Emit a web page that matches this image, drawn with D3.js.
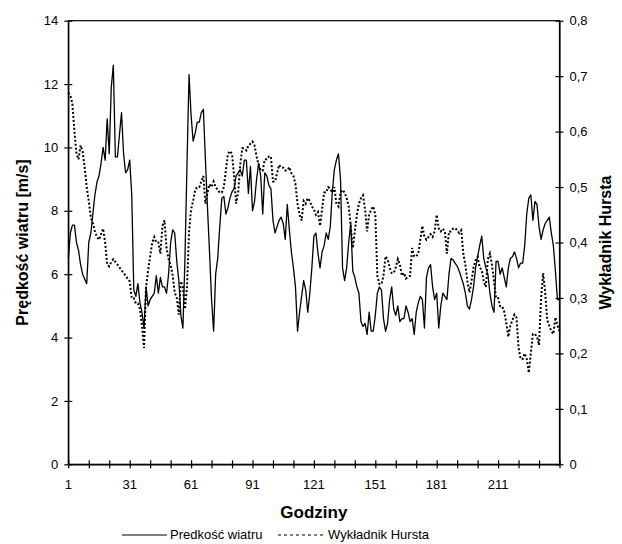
<!DOCTYPE html>
<meta charset="utf-8">
<script src="https://d3js.org/d3.v7.min.js"></script>
<style>
  body { margin: 0; background: #fff; }
  text { font-family: Arial, "Liberation Sans", sans-serif; fill: #000; }
</style>
<svg id="chart" width="622" height="544"></svg>
<script>

// hours 1..241
var hours = d3.range(1, 242);

// wind speed [m/s], one value per hour
var windSpeed = [
  6.5, 7.3, 7.55, 7.55, 7.0, 6.75, 6.3, 6.0, 5.85, 5.7,
  7.0, 7.3, 7.9, 8.5, 8.9, 9.1, 9.5, 10.0, 9.6, 10.9,
  9.8, 11.9, 12.6, 9.7, 9.7, 10.4, 11.1, 9.8, 9.2, 9.3,
  9.6, 8.5, 5.5, 5.3, 5.7, 5.1, 4.8, 4.3, 5.6, 5.0,
  5.2, 5.3, 5.4, 5.95, 5.4, 5.9, 5.6, 5.6, 5.4, 6.0,
  7.0, 7.4, 7.3, 6.4, 5.8, 4.7, 4.3, 6.5, 9.5, 12.3,
  11.0, 10.2, 10.45, 10.8, 10.8, 11.1, 11.2, 9.6, 8.1, 6.7,
  5.2, 4.2, 6.0, 6.5, 7.5, 8.4, 8.45, 7.9, 8.1, 8.4,
  8.6, 8.7, 9.1, 9.2, 9.3, 9.1, 9.6, 9.6, 8.55, 9.4,
  8.0, 8.3, 9.0, 9.5, 9.1, 7.9, 9.2, 9.1, 8.8, 8.7,
  7.7, 7.3, 7.5, 7.7, 7.8, 7.6, 7.1, 8.2, 7.4, 6.7,
  6.2, 5.6, 4.2, 4.8, 5.3, 5.8, 5.5, 4.8, 5.4, 6.2,
  7.2, 7.3, 6.65, 6.2, 6.7, 6.9, 7.3, 7.1, 7.5, 8.6,
  9.3, 9.6, 9.8, 9.0, 6.2, 5.8, 6.2, 7.0, 7.6, 6.1,
  5.9, 5.6, 5.4, 4.5, 4.35, 4.45, 4.1, 4.8, 4.2, 4.2,
  4.7, 5.4, 5.6, 5.5, 4.6, 4.2, 4.45, 5.2, 5.6, 4.9,
  4.7, 5.0, 4.5, 4.6, 4.6, 5.0, 4.8, 4.5, 4.6, 4.1,
  4.8, 5.1, 5.3, 5.2, 4.3, 5.9, 6.2, 6.3, 5.6, 5.2,
  5.4, 4.3, 5.0, 5.4, 5.3, 5.2, 6.0, 6.5, 6.45, 6.35,
  6.25, 6.1, 5.9, 5.7, 5.4, 5.0, 4.9, 5.2, 5.6, 6.2,
  6.55, 6.9, 7.2, 6.5, 6.2, 6.0, 5.4, 5.0, 4.8, 6.4,
  6.4, 6.0, 6.2, 5.9, 5.6, 6.2, 6.5, 6.55, 6.7, 6.5,
  6.2, 6.35, 6.35, 6.9, 7.9, 8.4, 8.5, 7.7, 8.3, 8.2,
  7.5, 7.1, 7.4, 7.6, 7.7, 7.8, 7.3, 6.9, 6.1, 5.2,
  5.2
];

// Hurst exponent, one value per hour
var hurst = [
  0.67, 0.665, 0.65, 0.60, 0.56, 0.55, 0.575, 0.565, 0.535, 0.50,
  0.475, 0.445, 0.435, 0.42, 0.41, 0.405, 0.415, 0.425, 0.40, 0.36,
  0.357, 0.365, 0.37, 0.365, 0.36, 0.355, 0.35, 0.345, 0.34, 0.335,
  0.33, 0.30, 0.30, 0.29, 0.29, 0.28, 0.25, 0.21, 0.32, 0.35,
  0.375, 0.40, 0.41, 0.40, 0.40, 0.38, 0.43, 0.44, 0.39, 0.37,
  0.36, 0.34, 0.31, 0.30, 0.27, 0.33, 0.32, 0.28, 0.32, 0.42,
  0.46, 0.475, 0.495, 0.50, 0.50, 0.51, 0.52, 0.47, 0.49, 0.505,
  0.50, 0.51, 0.50, 0.495, 0.49, 0.49, 0.50, 0.53, 0.56, 0.565,
  0.56, 0.52, 0.47, 0.49, 0.54, 0.57, 0.57, 0.566, 0.575, 0.578,
  0.582, 0.575, 0.555, 0.54, 0.53, 0.53, 0.55, 0.55, 0.555, 0.555,
  0.51, 0.51, 0.525, 0.54, 0.535, 0.535, 0.53, 0.53, 0.536, 0.525,
  0.52, 0.505, 0.47, 0.45, 0.44, 0.475, 0.47, 0.48, 0.475, 0.465,
  0.46, 0.45, 0.455, 0.43, 0.46, 0.49, 0.49, 0.50, 0.497, 0.49,
  0.50, 0.47, 0.465, 0.49, 0.495, 0.49, 0.48, 0.465, 0.43, 0.39,
  0.42, 0.45, 0.47, 0.48, 0.485, 0.46, 0.42, 0.45, 0.46, 0.465,
  0.45, 0.34, 0.325, 0.325, 0.34, 0.375, 0.37, 0.355, 0.345, 0.345,
  0.355, 0.37, 0.36, 0.34, 0.345, 0.335, 0.338, 0.34, 0.39, 0.375,
  0.375, 0.38, 0.405, 0.43, 0.41, 0.405, 0.41, 0.415, 0.41, 0.42,
  0.45, 0.425, 0.42, 0.425, 0.42, 0.38, 0.42, 0.42, 0.425, 0.426,
  0.422, 0.417, 0.422, 0.38, 0.36, 0.33, 0.31, 0.33, 0.355, 0.368,
  0.374, 0.355, 0.35, 0.33, 0.32, 0.37, 0.38, 0.36, 0.33, 0.30,
  0.30, 0.285, 0.285, 0.275, 0.255, 0.23, 0.25, 0.26, 0.27, 0.265,
  0.21, 0.19, 0.19, 0.20, 0.19, 0.165, 0.20, 0.235, 0.235, 0.23,
  0.215, 0.30, 0.345, 0.31, 0.26, 0.25, 0.24, 0.235, 0.265, 0.25,
  0.24
];

var xTicks = d3.range(1, 242, 10);        // tick marks every 10 h
var xLabels = [1, 31, 61, 91, 121, 151, 181, 211];
var windTicks = d3.range(0, 15, 2);
var hurstTicks = d3.range(0, 9).map(function(d){ return d / 10; });

var svg = d3.select("#chart");
var plotL = 68.3, plotR = 559.5, plotT = 20.7, plotB = 464.3;

var x = d3.scaleLinear().domain([1, 241]).range([plotL, plotR]);
var yL = d3.scaleLinear().domain([0, 14]).range([plotB, plotT]);
var yR = d3.scaleLinear().domain([0, 0.8]).range([plotB, plotT]);

var comma = function(d){ return d === 0 ? "0" : d.toFixed(1).replace(".", ","); };

// frame
svg.append("rect")
  .attr("x", plotL).attr("y", plotT)
  .attr("width", plotR - plotL).attr("height", plotB - plotT)
  .attr("fill", "none").attr("stroke", "#000").attr("stroke-width", 1.2);

// axes with ticks crossing the axis line
function styleAxis(g) {
  g.select(".domain").attr("stroke", "#000").attr("stroke-width", 1.2);
  g.selectAll(".tick line").attr("stroke", "#000").attr("stroke-width", 1.2);
  g.selectAll(".tick text").attr("font-family", null).style("font-size", "13px");
}

svg.append("g")
  .attr("transform", "translate(0," + plotB + ")")
  .call(d3.axisBottom(x).tickValues(xTicks).tickSize(4).tickSizeOuter(0).tickFormat(""))
  .call(styleAxis)
  .call(function(g){ g.selectAll(".tick line").attr("y1", -4); });

svg.append("g").selectAll("text")
  .data(xLabels)
  .enter().append("text")
    .attr("x", function(d){ return x(d); })
    .attr("y", 489)
    .attr("text-anchor", "middle")
    .style("font-size", "13px")
    .text(function(d){ return d; });

svg.append("g")
  .attr("transform", "translate(" + plotL + ",0)")
  .call(d3.axisLeft(yL).tickValues(windTicks).tickSize(4).tickSizeOuter(0).tickPadding(6))
  .call(styleAxis)
  .call(function(g){ g.selectAll(".tick line").attr("x1", 4); });

svg.append("g")
  .attr("transform", "translate(" + plotR + ",0)")
  .call(d3.axisRight(yR).tickValues(hurstTicks).tickSize(4).tickSizeOuter(0).tickPadding(6).tickFormat(comma))
  .call(styleAxis)
  .call(function(g){ g.selectAll(".tick line").attr("x1", -4); });

// series
var windLine = d3.line()
  .x(function(d, i){ return x(hours[i]); })
  .y(function(d){ return yL(d); });

var hurstLine = d3.line()
  .x(function(d, i){ return x(hours[i]); })
  .y(function(d){ return yR(d); });

svg.append("path")
  .datum(hurst)
  .attr("d", hurstLine)
  .attr("fill", "none")
  .attr("stroke", "#000")
  .attr("stroke-width", 2)
  .attr("stroke-dasharray", "2,2");

svg.append("path")
  .datum(windSpeed)
  .attr("d", windLine)
  .attr("fill", "none")
  .attr("stroke", "#000")
  .attr("stroke-width", 1.3)
  .attr("stroke-linejoin", "round");

// axis titles
svg.append("text")
  .attr("transform", "translate(28," + ((plotT + plotB) / 2) + ") rotate(-90)")
  .attr("text-anchor", "middle")
  .style("font-size", "16px").style("font-weight", "bold")
  .text("Prędkość wiatru [m/s]");

svg.append("text")
  .attr("transform", "translate(611," + ((plotT + plotB) / 2) + ") rotate(-90)")
  .attr("text-anchor", "middle")
  .style("font-size", "16px").style("font-weight", "bold")
  .text("Wykładnik Hursta");

svg.append("text")
  .attr("x", (plotL + plotR) / 2).attr("y", 518)
  .attr("text-anchor", "middle")
  .style("font-size", "17px").style("font-weight", "bold")
  .text("Godziny");

// legend
var legend = svg.append("g").attr("transform", "translate(0,539)");
legend.append("line")
  .attr("x1", 122).attr("x2", 167).attr("y1", -4).attr("y2", -4)
  .attr("stroke", "#000").attr("stroke-width", 1.2);
legend.append("text").attr("x", 170).attr("y", 0)
  .style("font-size", "13px").text("Predkość wiatru");
legend.append("line")
  .attr("x1", 278).attr("x2", 323).attr("y1", -4).attr("y2", -4)
  .attr("stroke", "#000").attr("stroke-width", 1.2).attr("stroke-dasharray", "3,3");
legend.append("text").attr("x", 328).attr("y", 0)
  .style("font-size", "13px").text("Wykładnik Hursta");

</script>
